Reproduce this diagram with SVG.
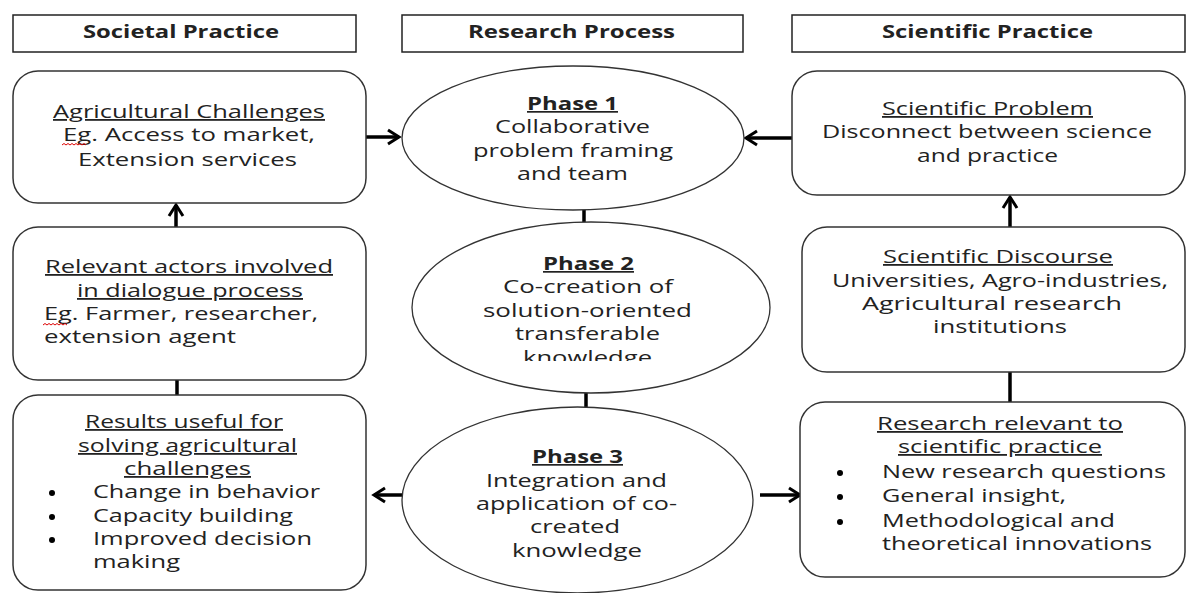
<svg xmlns="http://www.w3.org/2000/svg" width="1187" height="593" viewBox="0 0 1187 593">
<style>
.hdr{fill:#fff;stroke:#222;stroke-width:1.5}
.box{fill:#fff;stroke:#333;stroke-width:1.5}
.ell{fill:#fff;stroke:#333;stroke-width:1.3}
text{font-family:"Open Sans","Liberation Sans",sans-serif;font-size:18px;fill:#222}
.b{font-weight:bold;font-size:17px}
.c{text-anchor:middle}
.u{text-decoration:underline}
.con{stroke:#000;stroke-width:3.5;fill:none}
.sq{stroke:#d00;stroke-width:1;fill:none}
</style>
<defs>
<marker id="arr" markerUnits="userSpaceOnUse" markerWidth="16" markerHeight="18" refX="13" refY="9" orient="auto">
<path d="M2,2 L13,9 L2,16" fill="none" stroke="#000" stroke-width="3"/>
</marker>
<clipPath id="clipK"><rect x="400" y="200" width="400" height="161"/></clipPath>
</defs>

<g id="connectors">
<line class="con" x1="366" y1="137" x2="399" y2="137" marker-end="url(#arr)"/>
<line class="con" x1="792" y1="138" x2="746" y2="138" marker-end="url(#arr)"/>
<line class="con" x1="176" y1="227" x2="176" y2="205" marker-end="url(#arr)"/>
<line class="con" x1="1010" y1="227" x2="1010" y2="197" marker-end="url(#arr)"/>
<line class="con" x1="584" y1="210" x2="584" y2="222"/>
<line class="con" x1="586" y1="393" x2="586" y2="407"/>
<line class="con" x1="177" y1="380" x2="177" y2="395"/>
<line class="con" x1="1010" y1="372" x2="1010" y2="402"/>
<line class="con" x1="402" y1="495" x2="374" y2="495" marker-end="url(#arr)"/>
<line class="con" x1="760" y1="495" x2="800" y2="495" marker-end="url(#arr)"/>
</g>

<g id="hdr-societal">
<rect class="hdr" x="13" y="15" width="343" height="37"/>
<text class="b c" x="181" y="38" textLength="196" lengthAdjust="spacingAndGlyphs">Societal Practice</text>
</g>
<g id="hdr-research">
<rect class="hdr" x="402" y="15" width="341" height="37"/>
<text class="b c" x="571.5" y="38" textLength="207" lengthAdjust="spacingAndGlyphs">Research Process</text>
</g>
<g id="hdr-scientific">
<rect class="hdr" x="792" y="15" width="393" height="37"/>
<text class="b c" x="987.5" y="38" textLength="211" lengthAdjust="spacingAndGlyphs">Scientific Practice</text>
</g>

<g id="agri-challenges">
<rect class="box" x="13" y="71" width="353" height="132" rx="25"/>
<text class="c u" x="189" y="118" textLength="272" lengthAdjust="spacingAndGlyphs">Agricultural Challenges</text>
<text class="c" x="189" y="141" textLength="252" lengthAdjust="spacingAndGlyphs">Eg. Access to market,</text>
<text class="c" x="187.5" y="166" textLength="219" lengthAdjust="spacingAndGlyphs">Extension services</text>
<path class="sq" d="M62,145 l2,-1.5 l2,1.5 l2,-1.5 l2,1.5 l2,-1.5 l2,1.5 l2,-1.5 l2,1.5 l2,-1.5 l2,1.5 l2,-1.5 l2,1.5"/>
</g>

<g id="relevant-actors">
<rect class="box" x="13" y="227" width="353" height="153" rx="25"/>
<text class="c u" x="189" y="273" textLength="288" lengthAdjust="spacingAndGlyphs">Relevant actors involved</text>
<text class="c u" x="190" y="297" textLength="226" lengthAdjust="spacingAndGlyphs">in dialogue process</text>
<text x="44" y="320" textLength="274" lengthAdjust="spacingAndGlyphs">Eg. Farmer, researcher,</text>
<text x="44" y="343" textLength="192" lengthAdjust="spacingAndGlyphs">extension agent</text>
<path class="sq" d="M43,325 l2,-1.5 l2,1.5 l2,-1.5 l2,1.5 l2,-1.5 l2,1.5 l2,-1.5 l2,1.5 l2,-1.5 l2,1.5 l2,-1.5 l2,1.5"/>
</g>

<g id="results-useful">
<rect class="box" x="13" y="395" width="353" height="195" rx="25"/>
<text class="c u" x="184" y="428" textLength="198" lengthAdjust="spacingAndGlyphs">Results useful for</text>
<text class="c u" x="187.5" y="452" textLength="219" lengthAdjust="spacingAndGlyphs">solving agricultural</text>
<text class="c u" x="187.5" y="475" textLength="127" lengthAdjust="spacingAndGlyphs">challenges</text>
<circle cx="52" cy="493" r="3"/>
<circle cx="52" cy="517" r="3"/>
<circle cx="52" cy="540" r="3"/>
<text x="93" y="498" textLength="227" lengthAdjust="spacingAndGlyphs">Change in behavior</text>
<text x="93" y="522" textLength="200" lengthAdjust="spacingAndGlyphs">Capacity building</text>
<text x="93" y="545" textLength="219" lengthAdjust="spacingAndGlyphs">Improved decision</text>
<text x="93" y="568" textLength="87" lengthAdjust="spacingAndGlyphs">making</text>
</g>

<g id="phase1">
<ellipse class="ell" cx="573" cy="138" rx="171" ry="72"/>
<text class="b c u" x="572.5" y="110" textLength="91" lengthAdjust="spacingAndGlyphs">Phase 1</text>
<text class="c" x="572.5" y="133" textLength="155" lengthAdjust="spacingAndGlyphs">Collaborative</text>
<text class="c" x="573" y="157" textLength="200" lengthAdjust="spacingAndGlyphs">problem framing</text>
<text class="c" x="572.5" y="180" textLength="111" lengthAdjust="spacingAndGlyphs">and team</text>
</g>

<g id="phase2">
<ellipse class="ell" cx="591" cy="307.5" rx="179" ry="85.5"/>
<text class="b c u" x="588.5" y="270" textLength="91" lengthAdjust="spacingAndGlyphs">Phase 2</text>
<text class="c" x="588" y="293" textLength="170" lengthAdjust="spacingAndGlyphs">Co-creation of</text>
<text class="c" x="587.5" y="317" textLength="209" lengthAdjust="spacingAndGlyphs">solution-oriented</text>
<text class="c" x="587.5" y="340" textLength="145" lengthAdjust="spacingAndGlyphs">transferable</text>
<text class="c" x="587.5" y="364" textLength="129" lengthAdjust="spacingAndGlyphs" clip-path="url(#clipK)">knowledge</text>
</g>

<g id="phase3">
<ellipse class="ell" cx="577.5" cy="500" rx="175.5" ry="93"/>
<text class="b c u" x="577.5" y="463" textLength="91" lengthAdjust="spacingAndGlyphs">Phase 3</text>
<text class="c" x="576.5" y="487" textLength="181" lengthAdjust="spacingAndGlyphs">Integration and</text>
<text class="c" x="576.5" y="510" textLength="201" lengthAdjust="spacingAndGlyphs">application of co-</text>
<text class="c" x="575" y="533" textLength="90" lengthAdjust="spacingAndGlyphs">created</text>
<text class="c" x="577" y="557" textLength="130" lengthAdjust="spacingAndGlyphs">knowledge</text>
</g>

<g id="scientific-problem">
<rect class="box" x="792" y="71" width="393" height="124" rx="25"/>
<text class="c u" x="987.5" y="115" textLength="211" lengthAdjust="spacingAndGlyphs">Scientific Problem</text>
<text class="c" x="987" y="138" textLength="330" lengthAdjust="spacingAndGlyphs">Disconnect between science</text>
<text class="c" x="987.5" y="162" textLength="141" lengthAdjust="spacingAndGlyphs">and practice</text>
</g>

<g id="scientific-discourse">
<rect class="box" x="802" y="227" width="383" height="145" rx="25"/>
<text class="c u" x="998" y="263" textLength="230" lengthAdjust="spacingAndGlyphs">Scientific Discourse</text>
<text class="c" x="1000" y="287" textLength="336" lengthAdjust="spacingAndGlyphs">Universities, Agro-industries,</text>
<text class="c" x="992" y="310" textLength="260" lengthAdjust="spacingAndGlyphs">Agricultural research</text>
<text class="c" x="1000" y="333" textLength="134" lengthAdjust="spacingAndGlyphs">institutions</text>
</g>

<g id="research-relevant">
<rect class="box" x="800" y="402" width="385" height="175" rx="25"/>
<text class="c u" x="1000" y="430" textLength="246" lengthAdjust="spacingAndGlyphs">Research relevant to</text>
<text class="c u" x="1000" y="453" textLength="204" lengthAdjust="spacingAndGlyphs">scientific practice</text>
<circle cx="840" cy="473" r="3"/>
<circle cx="840" cy="497" r="3"/>
<circle cx="840" cy="522" r="3"/>
<text x="882" y="478" textLength="284" lengthAdjust="spacingAndGlyphs">New research questions</text>
<text x="882" y="502" textLength="184" lengthAdjust="spacingAndGlyphs">General insight,</text>
<text x="882" y="527" textLength="233" lengthAdjust="spacingAndGlyphs">Methodological and</text>
<text x="882" y="550" textLength="270" lengthAdjust="spacingAndGlyphs">theoretical innovations</text>
</g>
</svg>
